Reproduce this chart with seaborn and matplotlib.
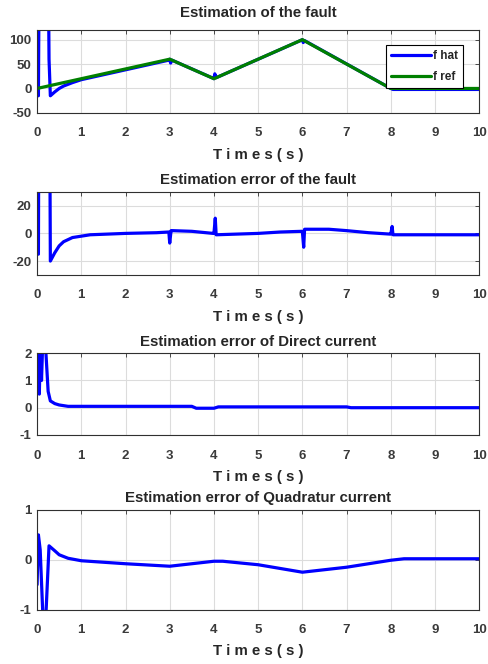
import pandas as pd
import matplotlib
matplotlib.use("Agg")
import matplotlib.pyplot as plt
import seaborn as sns

# fault estimation (top panel)
t_ref = [0, 3, 4, 6, 8, 10]
f_ref = [0, 60, 20, 100, 0, 0]
t_hat = [0, 0.03, 0.05, 0.25, 0.27, 0.3, 0.4, 0.5, 0.6, 0.8, 1.0, 2.98, 3.0, 3.02, 3.05,
         3.98, 4.0, 4.02, 4.05, 5.98, 6.0, 6.02, 6.05, 8.0, 8.05, 10]
f_hat = [-5, -15, 300, 300, 60, -15, -7, 0, 5, 12, 18, 58, 60, 52, 58,
         21, 20, 30, 22, 99, 100, 94, 98, 0, -2, -2]

# fault estimation error
t_err = [0, 0.03, 0.05, 0.27, 0.3, 0.4, 0.5, 0.6, 0.8, 1.0, 1.2, 2.0, 2.7, 2.98, 3.0, 3.03, 3.05,
         3.5, 3.98, 4.0, 4.03, 4.05, 5.0, 5.5, 5.98, 6.0, 6.03, 6.05, 6.6, 7.0, 7.5, 7.98, 8.0,
         8.03, 8.05, 10]
e_fault = [-15, -15, 200, 200, -20, -14, -9, -6, -3, -2, -1, 0, 0.5, 1, -7, 2, 2,
           1.5, 0, 0, 11, -1, 0, 1, 1.5, 1.5, -10, 3, 3, 2, 0.5, -0.5, -0.5,
           5, -1, -1]

# direct current error
t_d = [0, 0.03, 0.05, 0.08, 0.1, 0.13, 0.16, 0.2, 0.25, 0.3, 0.4, 0.5, 0.7, 3.5, 3.6, 4.0, 4.1,
       7.0, 7.1, 10]
e_d = [1.5, 2.5, 0.5, 2.5, 1.0, 2.5, 2.5, 2.0, 0.6, 0.25, 0.15, 0.1, 0.05, 0.05, -0.02, -0.02, 0.03,
       0.03, 0.0, 0.0]

# quadrature current error
t_q = [0, 0.03, 0.07, 0.13, 0.2, 0.27, 0.4, 0.5, 0.7, 1.0, 2.0, 3.0, 4.0, 4.2,
       5.0, 6.0, 7.0, 8.0, 8.3, 10]
e_q = [-0.5, 0.5, 0.2, -1.1, -1.1, 0.28, 0.18, 0.1, 0.03, -0.02, -0.08, -0.13, -0.03, -0.03,
       -0.1, -0.25, -0.15, -0.01, 0.02, 0.02]

sns.set_style("white")
plt.rcParams['font.family'] = ['Liberation Sans', 'DejaVu Sans']
plt.rcParams['font.weight'] = 'bold'
plt.rcParams['axes.unicode_minus'] = False

blue = (0, 0, 1)
green = (0, 0.5, 0)
tick_col = "#3a3a3a"

fig = plt.figure(figsize=(4.88, 6.64), dpi=100)
left, width = 0.076, 0.906
boxes = [(0.830, 0.125), (0.586, 0.125), (0.345, 0.123), (0.082, 0.150)]
axes = [fig.add_axes([left, b, width, h]) for b, h in boxes]

panels = [
    ("Estimation of the fault", (-50, 120), [-50, 0, 50, 100], 9),
    ("Estimation error of the fault", (-30, 30), [-20, 0, 20], 6),
    ("Estimation error of Direct current", (-1, 2), [-1, 0, 1, 2], 5.5),
    ("Estimation error of Quadratur current", (-1, 1), [-1, 0, 1], 5.5),
]

sns.lineplot(x=t_hat, y=f_hat, ax=axes[0], color=blue, lw=2.3, estimator=None, sort=False, label="f hat")
sns.lineplot(x=t_ref, y=f_ref, ax=axes[0], color=green, lw=2.3, estimator=None, sort=False, label="f ref")
sns.lineplot(x=t_err, y=e_fault, ax=axes[1], color=blue, lw=2.3, estimator=None, sort=False)
sns.lineplot(x=t_d, y=e_d, ax=axes[2], color=blue, lw=2.3, estimator=None, sort=False)
sns.lineplot(x=t_q, y=e_q, ax=axes[3], color=blue, lw=2.3, estimator=None, sort=False)

for ax, (title, ylim, yticks, tpad) in zip(axes, panels):
    ax.set_xlim(0, 10)
    ax.set_ylim(*ylim)
    ax.set_xticks(range(0, 11))
    ax.set_yticks(yticks)
    ax.grid(True, color="#dcdcdc", lw=0.8)
    ax.set_axisbelow(True)
    for s in ax.spines.values():
        s.set_color("#303030")
        s.set_linewidth(0.8)
    ax.tick_params(direction="in", length=3, width=0.6, top=True, right=True,
                   labelsize=9.5, labelcolor=tick_col, colors="#303030")
    ax.tick_params(axis="x", pad=10.5)
    ax.tick_params(axis="y", pad=4)
    for lab in ax.get_xticklabels() + ax.get_yticklabels():
        lab.set_fontweight("bold")
        lab.set_color(tick_col)
    ax.set_title(title, fontsize=10.8, fontweight="bold", pad=tpad)
    ax.set_xlabel("T i m e s ( s )", fontsize=10.8, fontweight="bold", labelpad=6)
    ax.set_ylabel("")

leg = axes[0].legend(loc="upper right", bbox_to_anchor=(0.976, 0.89), fontsize=8.5, frameon=True,
                     fancybox=False, edgecolor="black", framealpha=1, handlelength=3.4,
                     handletextpad=0.15, borderpad=0.4, labelspacing=0.8)
leg.get_frame().set_linewidth(0.8)
for txt in leg.get_texts():
    txt.set_fontweight("bold")

fig.savefig("out.png", dpi=100)
